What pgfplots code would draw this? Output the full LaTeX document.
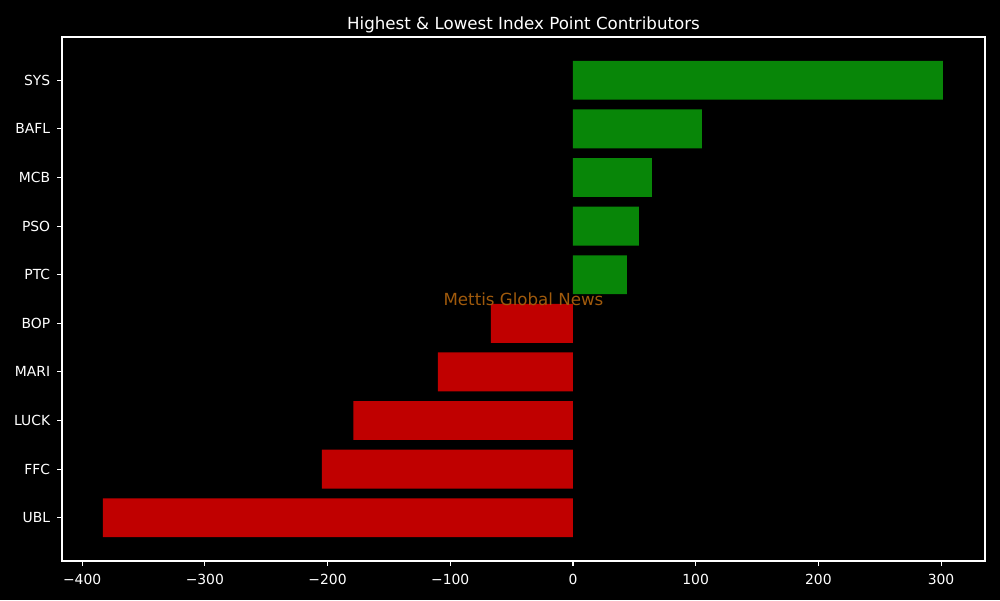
\documentclass[border=0pt]{standalone}
\usepackage{pgfplots}
\pgfplotsset{compat=1.18}
\usepackage{fontspec}
\setmainfont{DejaVu Sans}
\definecolor{bargreen}{RGB}{8,134,8}
\definecolor{barred}{RGB}{192,0,0}
\definecolor{wm}{RGB}{160,90,12}
\begin{document}
\begin{tikzpicture}[x=1pt,y=1pt]
\fill[black] (0,0) rectangle (720,432);
\begin{axis}[
  at={(44.64pt,28.08pt)}, anchor=south west,
  scale only axis, width=664.56pt, height=377.28pt,
  xmin=-416.4, xmax=335.8, ymin=-0.89, ymax=9.89,
  axis line style={white, line width=0.8pt},
  axis background/.style={fill=black},
  tick style={white, line width=0.8pt},
  major tick length=3.5pt,
  tick align=outside,
  xtick pos=bottom, ytick pos=left,
  xtick={-400,-300,-200,-100,0,100,200,300},
  xticklabels={−400,−300,−200,−100,0,100,200,300},
  ytick={0,...,9},
  yticklabels={UBL,FFC,LUCK,MARI,BOP,PTC,PSO,MCB,BAFL,SYS},
  ticklabel style={text=white, font=\fontsize{10}{12}\selectfont},
  xticklabel style={yshift=-2.5pt},
  yticklabel style={xshift=-1.5pt},
  title={Highest \& Lowest Index Point Contributors},
  title style={text=white, font=\fontsize{12}{14}\selectfont, yshift=-6.5pt},
  xbar, bar width=0.8,
]
\addplot[xbar, bar shift=0pt, fill=bargreen, draw=none] coordinates {
(301.5,9) (105,8) (64.4,7) (53.8,6) (44,5)
};
\addplot[xbar, bar shift=0pt, fill=barred, draw=none] coordinates {
(-66.8,4) (-110,3) (-179,2) (-204.6,1) (-383,0)
};
\node[text=wm, font=\fontsize{12}{14}\selectfont] at (rel axis cs:0.5,0.5) {Mettis Global News};
\end{axis}
\end{tikzpicture}
\end{document}
